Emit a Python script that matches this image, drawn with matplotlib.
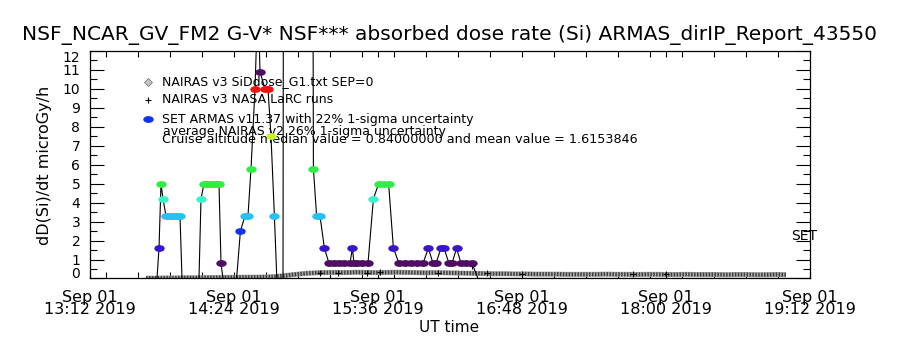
import matplotlib
matplotlib.use('Agg')
import matplotlib.pyplot as plt
import matplotlib.dates as mdates
from matplotlib.path import Path
from matplotlib.ticker import MultipleLocator
import pandas as pd

# flight start used as time origin, everything below is minutes after it
t0 = pd.Timestamp('2019-09-01 13:12')

# SET ARMAS dose rate (minutes after 13:12, microGy/h)
armas_min = [28, 33.5, 34.5, 35.5, 36.5, 38, 39.5, 41, 42.5, 44, 45, 46,
             54.5, 55.5, 57, 58.5, 60, 61.5, 63, 64.5, 65.5, 66.5,
             73.3, 75.2, 77.5, 79, 80.5, 82.5, 84, 85, 87.5, 89, 90.5, 92.2, 93.4,
             96.5, 97, 111, 111.7, 113.3, 115, 117.2, 119.5, 122, 124.5, 127, 130,
             131.2, 132, 133.5, 136, 139, 141.7, 144.3, 147, 149.3, 151.7, 154.5,
             157.5, 160.5, 163.5, 166.5, 169.2, 171.5, 173, 175.5, 177, 179.5, 181,
             183.3, 185.5, 188, 191, 194, 353]
armas_val = [0, 0, 1.6, 5.0, 4.2, 3.3, 3.3, 3.3, 3.3, 3.3, 3.3, 0,
             0, 4.2, 5.0, 5.0, 5.0, 5.0, 5.0, 5.0, 0.8, 0,
             0, 2.5, 3.3, 3.3, 5.8, 10.0, 15.0, 10.9, 10.0, 10.0, 7.5, 3.3, 0,
             0, 40, 40, 5.8, 3.3, 3.3, 1.6, 0.8, 0.8, 0.8, 0.8, 0.8,
             1.6, 0.8, 0.8, 0.8, 0.8, 4.2, 5.0, 5.0, 5.0, 1.6, 0.8,
             0.8, 0.8, 0.8, 0.8, 1.6, 0.8, 0.8, 1.6, 1.6, 0.8, 0.8,
             1.6, 0.8, 0.8, 0.8, 0, 0]

# NAIRAS v3 SiDose model, 5 minute steps
nairas_min = list(range(28, 349, 5))
nairas_val = [0.02, 0.02, 0.03, 0.03, 0.04, 0.04, 0.05, 0.05, 0.06, 0.06, 0.07, 0.07, 0.08,
              0.10, 0.16, 0.22, 0.27, 0.30, 0.31,
              0.32, 0.31, 0.33, 0.32, 0.31, 0.32, 0.33, 0.32, 0.31, 0.30, 0.31, 0.30, 0.29, 0.28, 0.27,
              0.26, 0.25, 0.25, 0.24, 0.24, 0.23, 0.23, 0.23, 0.22, 0.22,
              0.22, 0.22, 0.23, 0.22, 0.22, 0.21, 0.22, 0.22, 0.21, 0.21,
              0.22, 0.21, 0.21, 0.21, 0.20, 0.21, 0.21, 0.20, 0.20, 0.21, 0.20]

# NAIRAS v3 NASA LaRC runs
larc_min = [115, 124.2, 138.3, 145, 174.2, 190.8, 198.3, 215.8, 271.5, 288]
larc_val = [0.30, 0.30, 0.30, 0.35, 0.30, 0.65, 0.30, 0.24, 0.24, 0.24]

x_ticks = ['13:12', '14:24', '15:36', '16:48', '18:00', '19:12']

title = 'NSF_NCAR_GV_FM2 G-V* NSF*** absorbed dose rate (Si) ARMAS_dirIP_Report_43550'
legend_labels = ['NAIRAS v3 SiDdose_G1.txt SEP=0',
                 'NAIRAS v3 NASA LaRC runs',
                 'SET ARMAS v11.37 with 22% 1-sigma uncertainty']
note_lines = ['average NAIRAS v2 26% 1-sigma uncertainty',
              'Cruise altitude median value = 0.84000000 and mean value = 1.6153846']


def to_time(minutes):
    return t0 + pd.to_timedelta(minutes, unit='min')


def armas_color(v):
    # IDL style colour table look-up by dose level
    if v < 1.2:
        return '#4e0e62'
    if v < 2.0:
        return '#3a16c8'
    if v < 2.9:
        return '#1434e6'
    if v < 3.7:
        return '#28c0f0'
    if v < 4.6:
        return '#3cf0c8'
    if v < 6.5:
        return '#30ec44'
    if v < 9.0:
        return '#c8f032'
    if v < 10.5:
        return '#f01010'
    return '#4e0e62'


circle = Path.unit_circle()
ellipse = Path(circle.vertices * [1.0, 0.6], circle.codes)

plt.rcParams['font.family'] = ['DejaVu Sans']

fig = plt.figure(figsize=(9, 3.5), dpi=100)
ax = fig.add_axes([0.1, 0.2043, 0.8, 0.65])

t_armas = to_time(pd.Series(armas_min))
t_nairas = to_time(pd.Series(nairas_min))
t_larc = to_time(pd.Series(larc_min))

# dense NAIRAS symbols merge into a textured grey band
ax.plot(t_nairas, nairas_val, color='#a8a8a8', linewidth=3.6,
        solid_capstyle='butt', zorder=2)
ax.plot(t_nairas, nairas_val, color='#404040', linewidth=3.0,
        dashes=(0.35, 0.35), dash_capstyle='butt', zorder=2)
ax.plot(t_larc, larc_val, linestyle='none', marker='+', markersize=5,
        color='black', markeredgewidth=0.8, zorder=3)
ax.plot(t_armas, armas_val, color='black', linewidth=0.8, zorder=4)
for t, v in zip(t_armas, armas_val):
    if v > 0:
        ax.plot([t], [v], linestyle='none', marker=ellipse, markersize=6.5,
                color=armas_color(v), zorder=5)

ax.set_xlim(to_time(0), to_time(360))
ax.set_ylim(0, 12)
ax.set_xticks([pd.Timestamp('2019-09-01 ' + s) for s in x_ticks])
ax.xaxis.set_major_formatter(mdates.DateFormatter('%b %d\n%H:%M %Y'))
ax.xaxis.set_minor_locator(mdates.MinuteLocator(byminute=range(0, 60, 1), interval=16))
ax.yaxis.set_major_locator(MultipleLocator(1))
ax.yaxis.set_minor_locator(MultipleLocator(0.5))

ax.tick_params(axis='y', which='major', direction='in', length=10, width=0.8,
               left=True, right=True, labelsize=10, pad=7)
ax.tick_params(axis='y', which='minor', direction='in', length=5, width=0.8,
               left=True, right=True)
ax.tick_params(axis='x', which='major', direction='in', length=4, width=0.8,
               top=True, bottom=True, labelsize=11.5, pad=8)
ax.tick_params(axis='x', which='minor', direction='in', length=4, width=0.8,
               top=True, bottom=True)
for lab in ax.get_xticklabels():
    lab.set_linespacing(0.75)
for sp in ax.spines.values():
    sp.set_linewidth(0.9)

# legend drawn IDL-style inside the plot
fs = 9
leg_style = [dict(marker='D', markersize=3.6, markerfacecolor='#c4c4c4',
                  markeredgecolor='#505050', markeredgewidth=0.4, color='none'),
             dict(marker='+', markersize=5, color='black', markeredgewidth=0.8),
             dict(marker=ellipse, markersize=6.5, color='#1434e6')]
leg_y = [0.865, 0.785, 0.70]
for lab, st, y in zip(legend_labels, leg_style, leg_y):
    ax.plot([0.0806], [y], transform=ax.transAxes, linestyle='none', clip_on=False, **st)
    ax.text(0.0996, y, lab, transform=ax.transAxes, fontsize=fs, va='center', ha='left')
ax.text(0.1018, 0.646, note_lines[0], transform=ax.transAxes, fontsize=fs, va='center')
ax.text(0.1004, 0.613, note_lines[1], transform=ax.transAxes, fontsize=9.2, va='center')

ax.text(to_time(350.8), 2.24, 'SET', fontsize=10, va='center', ha='left', clip_on=False)

fig.text(0.499, 1 - 35 / 350, title, fontsize=14.5, ha='center', va='center')
fig.text(0.05, 1 - 165 / 350, 'dD(Si)/dt microGy/h', fontsize=11.5, rotation=90,
         ha='center', va='center')
fig.text(449 / 900, 1 - 327 / 350, 'UT time', fontsize=11, ha='center', va='center')

# IDL pushes the end labels of the y axis inside the frame
fig.canvas.draw()
for lab in ax.get_yticklabels():
    if lab.get_text() == '12':
        lab.set_verticalalignment('top')
    elif lab.get_text() == '0':
        lab.set_verticalalignment('baseline')

fig.savefig('out.png', dpi=100)
